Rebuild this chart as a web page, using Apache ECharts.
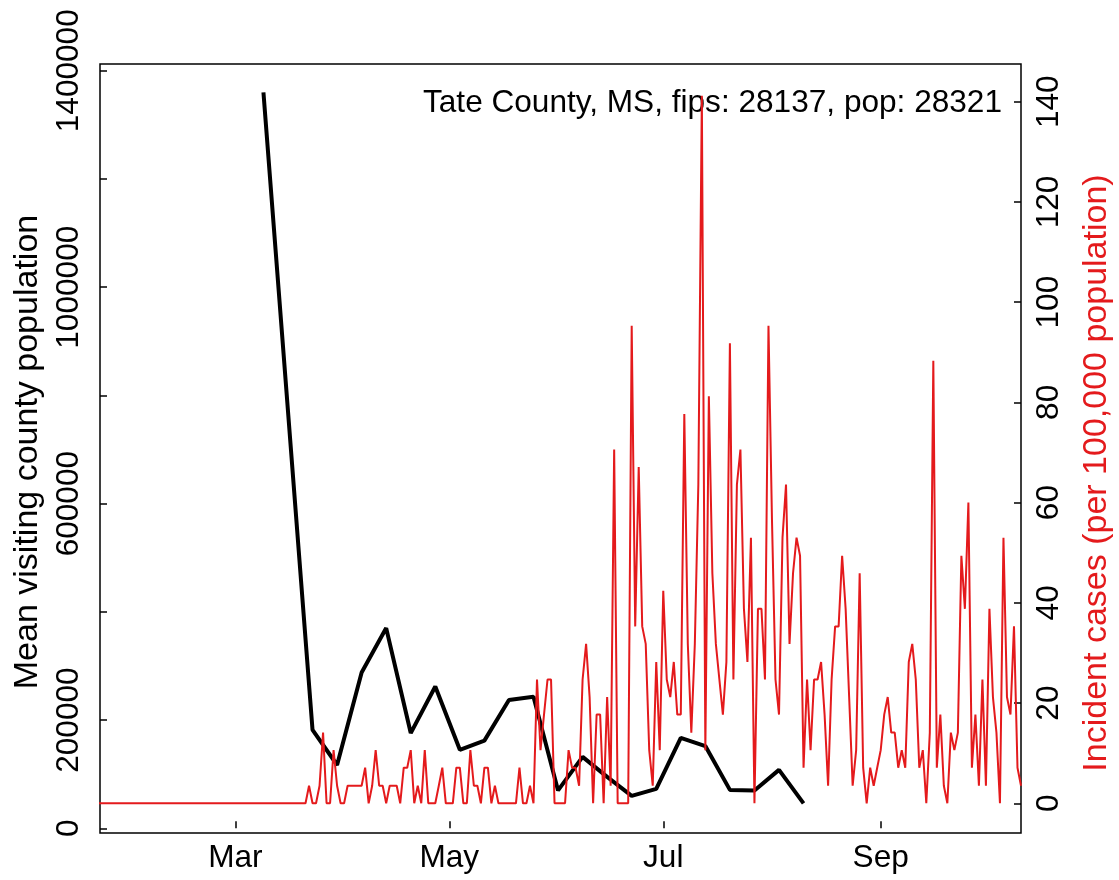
<!DOCTYPE html>
<html>
<head>
<meta charset="utf-8">
<script src="https://cdn.jsdelivr.net/npm/echarts@6/dist/echarts.min.js"></script>
<style>
  html, body { margin: 0; padding: 0; background: #fff; }
  #chart { width: 1119px; height: 880px; }
</style>
</head>
<body>
<div id="chart"></div>
<script>
// daily incident cases per 100,000 (Tate County, MS), starting 2020-01-22
var caseStart = '2020-01-22';
var incidence = [
  0,0,0,0,0,0,0,0,0,0, 0,0,0,0,0,0,0,0,0,0,
  0,0,0,0,0,0,0,0,0,0, 0,0,0,0,0,0,0,0,0,0,
  0,0,0,0,0,0,0,0,0,0, 0,0,0,0,0,0,0,0,0,0,
  3.5,0,0,3.5,14.1,0,0,10.6,3.5,0,
  0,3.5,3.5,3.5,3.5,3.5,7.1,0,3.5,10.6,
  3.5,3.5,0,3.5,3.5,3.5,0,7.1,7.1,10.6,
  0,3.5,0,10.6,0,0,0,3.5,7.1,0,
  0,0,7.1,7.1,0,0,10.6,3.5,3.5,0,
  7.1,7.1,0,3.5,0,0,0,0,0,0,
  7.1,0,0,3.5,0,24.7,10.6,17.7,24.7,24.7,
  0,0,0,0,10.6,7.1,7.1,3.5,24.7,31.8,
  21.2,0,17.7,17.7,0,21.2,3.5,70.6,0,0,
  0,0,95.3,35.3,67.1,35.3,31.8,10.6,3.5,28.2,
  10.6,42.4,24.7,21.2,28.2,17.7,17.7,77.7,31.8,14.1,
  31.8,63.6,141.2,10.6,81.2,45.9,31.8,24.7,17.7,28.2,
  91.8,24.7,63.6,70.6,38.8,28.2,53.0,0,38.8,38.8,
  24.7,95.3,56.5,24.7,17.7,53.0,63.6,31.8,45.9,53.0,
  49.4,7.1,24.7,10.6,24.7,24.7,28.2,17.7,3.5,24.7,
  35.3,35.3,49.4,38.8,21.2,3.5,10.6,45.9,7.1,0,
  7.1,3.5,7.1,10.6,17.7,21.2,14.1,14.1,7.1,10.6,
  7.1,28.2,31.8,24.7,7.1,10.6,0,14.1,88.3,7.1,
  17.7,3.5,0,14.1,10.6,14.1,49.4,38.8,60.0,7.1,
  17.7,3.5,24.7,3.5,38.8,21.2,14.1,0,53.0,21.2,
  17.7,35.3,7.1,3.5
];

// weekly mean visiting county population
var visitWeeks = ['2020-03-09','2020-03-23','2020-03-30','2020-04-06','2020-04-13','2020-04-20',
  '2020-04-27','2020-05-04','2020-05-11','2020-05-18','2020-05-25','2020-06-01','2020-06-08',
  '2020-06-15','2020-06-22','2020-06-29','2020-07-06','2020-07-13','2020-07-20','2020-07-27',
  '2020-08-03','2020-08-10'];
var visitPop = [1360000, 182000, 117000, 288000, 370000, 176000,
  262000, 145000, 162000, 237000, 243000, 70000, 132000,
  95000, 60000, 73000, 167000, 152000, 71000, 70000,
  108000, 46000];

var monthTicks = ['2020-03-01','2020-05-01','2020-07-01','2020-09-01'];
var monthNames = ['Jan','Feb','Mar','Apr','May','Jun','Jul','Aug','Sep','Oct','Nov','Dec'];
var leftTicks = [0, 200000, 400000, 600000, 800000, 1000000, 1200000, 1400000];
var leftLabels = [0, 200000, 600000, 1000000, 1400000];
var rightTicks = [0, 20, 40, 60, 80, 100, 120, 140];

var DAY = 86400000;
var FONT = 'Liberation Sans, Arial, sans-serif';
var t0 = Date.parse(caseStart);
var march1 = Date.parse('2020-03-01');

var redData = incidence.map(function (v, i) { return [t0 + i * DAY, v]; });
var blackData = visitWeeks.map(function (d, i) { return [Date.parse(d), visitPop[i]]; });
var monthVals = monthTicks.map(function (d) { return Date.parse(d); });

var chart = echarts.init(document.getElementById('chart'));
chart.setOption({
  animation: false,
  backgroundColor: '#fff',
  grid: {
    left: 100, right: 98, top: 64, bottom: 47,
    show: true, borderColor: '#000', borderWidth: 1.5, backgroundColor: 'transparent'
  },
  xAxis: {
    type: 'value',
    min: march1 - 38.6 * DAY,
    max: march1 + 224.0 * DAY,
    axisLine: { show: false },
    splitLine: { show: false },
    axisTick: { inside: true, length: 7, lineStyle: { color: '#000', width: 1.5 }, customValues: monthVals },
    axisLabel: {
      customValues: monthVals, color: '#000', fontSize: 31.6, fontFamily: FONT, margin: 9,
      formatter: function (v) { return monthNames[new Date(v).getUTCMonth()]; }
    }
  },
  yAxis: [
    {
      type: 'value', position: 'left',
      min: -8686, max: 1412493,
      axisLine: { show: false },
      splitLine: { show: false },
      axisTick: { inside: true, length: 7, lineStyle: { color: '#000', width: 1.5 }, customValues: leftTicks },
      axisLabel: {
        customValues: leftLabels, rotate: 90, align: 'center', verticalAlign: 'bottom',
        margin: 15, color: '#000', fontSize: 31.6, fontFamily: FONT,
        formatter: function (v) { return String(v); }
      }
    },
    {
      type: 'value', position: 'right',
      min: -5.93, max: 147.52,
      axisLine: { show: false },
      splitLine: { show: false },
      axisTick: { inside: true, length: 7, lineStyle: { color: '#000', width: 1.5 }, customValues: rightTicks },
      axisLabel: {
        customValues: rightTicks, rotate: 90, align: 'center', verticalAlign: 'top',
        margin: 12, color: '#000', fontSize: 31.6, fontFamily: FONT,
        formatter: function (v) { return String(v); }
      }
    }
  ],
  graphic: [
    {
      type: 'text', x: 1002, y: 103,
      style: { text: 'Tate County, MS, fips: 28137, pop: 28321', fill: '#000', font: '31.6px ' + FONT, align: 'right', verticalAlign: 'middle' }
    },
    {
      type: 'text', x: 28, y: 452, rotation: Math.PI / 2,
      style: { text: 'Mean visiting county population', fill: '#000', font: '34px ' + FONT, align: 'center', verticalAlign: 'middle' }
    },
    {
      type: 'text', x: 1097, y: 473, rotation: Math.PI / 2,
      style: { text: 'Incident cases (per 100,000 population)', fill: '#e41a1c', font: '34px ' + FONT, align: 'center', verticalAlign: 'middle' }
    }
  ],
  series: [
    {
      type: 'line', yAxisIndex: 0, data: blackData, symbol: 'none', z: 2,
      lineStyle: { color: '#000', width: 4 }
    },
    {
      type: 'line', yAxisIndex: 1, data: redData, symbol: 'none', z: 3,
      lineStyle: { color: '#e41a1c', width: 2 }
    }
  ]
});
</script>
</body>
</html>
